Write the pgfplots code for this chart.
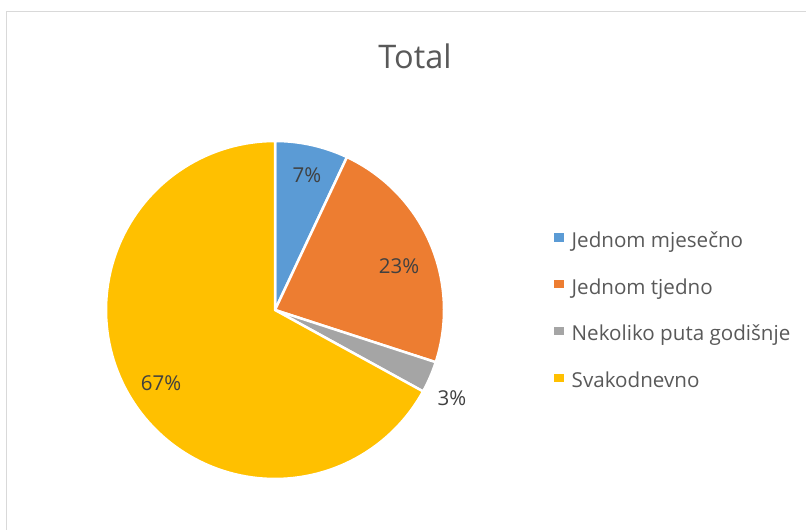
\documentclass[border=0pt]{standalone}
\usepackage{pgfplots}
\pgfplotsset{compat=1.18}
\usepackage{fontspec}
\setmainfont{Open Sans}
\definecolor{cblue}{HTML}{5B9BD5}
\definecolor{corange}{HTML}{ED7D31}
\definecolor{cgray}{HTML}{A5A5A5}
\definecolor{cgold}{HTML}{FFC000}
\definecolor{textgray}{HTML}{595959}
\definecolor{labelgray}{HTML}{404040}
\definecolor{bordergray}{HTML}{D9D9D9}
% slice: #1 = cumulative percent before, #2 = percent, #3 = colour
\newcommand{\slice}[3]{%
  \pgfmathsetmacro\sa{90-3.6*(#1)}%
  \pgfmathsetmacro\sb{90-3.6*(#1+#2)}%
  \edef\doslice{\noexpand\addplot[fill=#3, draw=white, line width=2.5pt, line join=round, domain=\sb:\sa, samples=120, variable=\noexpand\t]}%
  \doslice ({275+169*cos(\t)},{220+169*sin(\t)}) -- (axis cs:275,220) -- cycle;
}
\begin{document}
\begin{tikzpicture}
\begin{axis}[
  scale only axis, width=806pt, height=530pt,
  xmin=0, xmax=806, ymin=0, ymax=530,
  hide axis, clip=false,
  legend style={at={(axis cs:553,217)}, anchor=west, draw=none, fill=none, inner sep=0pt,
    font=\fontsize{20.6}{23}\selectfont, text=textgray, row sep=26.7pt,
    nodes={inner sep=0pt, text height=14.5pt, text depth=5.5pt}},
  legend cell align=left,
  legend image code/.code={\fill[#1,draw=none] (0pt,-0.5pt) rectangle (10pt,9.5pt); \path (0pt,0pt) -- (16pt,0pt);},
]
\slice{0}{7}{cblue}
\addlegendentry{Jednom mjesečno}
\slice{7}{23}{corange}
\addlegendentry{Jednom tjedno}
\slice{30}{3}{cgray}
\addlegendentry{Nekoliko puta godišnje}
\slice{33}{67}{cgold}
\addlegendentry{Svakodnevno}

\draw[bordergray, line width=1pt] (axis cs:6,0) -- (axis cs:6,518) -- (axis cs:806,518);
\node[font=\fontsize{32.5}{38}\selectfont, text=textgray] at (axis cs:415,474) {Total};
\node[font=\fontsize{20.5}{24}\selectfont, text=labelgray] at (axis cs:307,355) {7\%};
\node[font=\fontsize{20.5}{24}\selectfont, text=labelgray] at (axis cs:399,264) {23\%};
\node[font=\fontsize{20.5}{24}\selectfont, text=labelgray] at (axis cs:452,132) {3\%};
\node[font=\fontsize{20.5}{24}\selectfont, text=labelgray] at (axis cs:161,147) {67\%};
\end{axis}
\pgfresetboundingbox
\path[use as bounding box] (0,0) rectangle (806pt,530pt);
\end{tikzpicture}
\end{document}
